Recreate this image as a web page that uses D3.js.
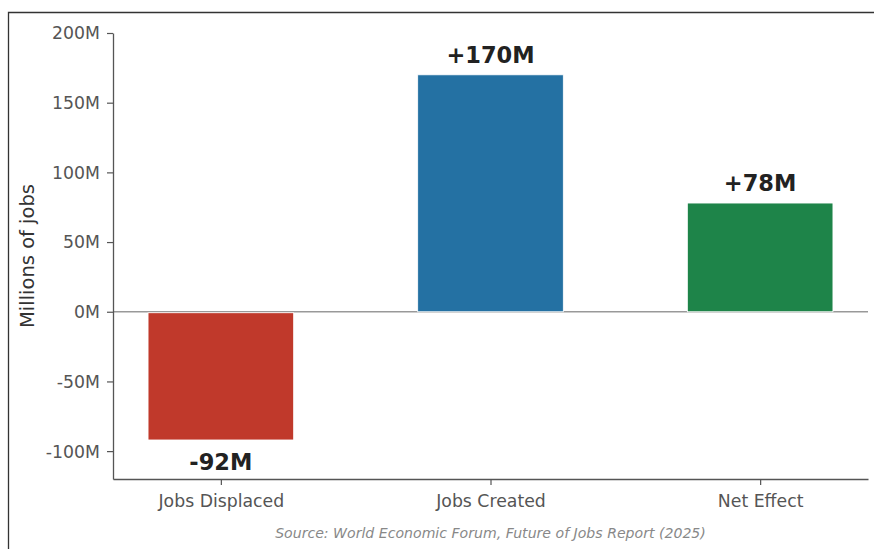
<!DOCTYPE html>
<html>
<head>
<meta charset="utf-8">
<script src="https://cdn.jsdelivr.net/npm/d3@7"></script>
<style>
  html, body { margin: 0; padding: 0; background: #fff; }
  svg { display: block; font-family: "DejaVu Sans", sans-serif; }
</style>
</head>
<body>
<svg id="chart" width="874" height="549"></svg>
<script>
const categories = ["Jobs Displaced", "Jobs Created", "Net Effect"];
const values = [-92, 170, 78];
const labels = ["-92M", "+170M", "+78M"];
const colors = ["#c0392b", "#2471a3", "#1e8449"];
const yTicks = [-100, -50, 0, 50, 100, 150, 200];
const yDomain = [-120, 200];
const source = "Source: World Economic Forum, Future of Jobs Report (2025)";

(function () {
const svg = d3.select("#chart");
const mLeft = 113, mRight = 868, mTop = 33, mBottom = 479;

// figure border (cropped)
svg.append("path")
  .attr("d", "M8.5,560 L8.5,12.5 L880,12.5")
  .attr("fill", "none").attr("stroke", "#333").attr("stroke-width", 1.3);

const x = d3.scaleLinear().domain([-0.4, 2.4]).range([mLeft, mRight]);
const y = d3.scaleLinear().domain(yDomain).range([mBottom, mTop]);
const bw = 0.54;

// zero line
svg.append("line")
  .attr("x1", mLeft).attr("x2", mRight)
  .attr("y1", y(0)).attr("y2", y(0))
  .attr("stroke", "#999").attr("stroke-width", 1.3);

// bars
svg.selectAll("rect.bar").data(values).join("rect")
  .attr("class", "bar")
  .attr("x", (d, i) => x(i - bw / 2))
  .attr("width", (d, i) => x(i + bw / 2) - x(i - bw / 2))
  .attr("y", d => y(Math.max(0, d)) + (d < 0 ? 1 : 0))
  .attr("height", d => Math.abs(y(d) - y(0)) - (d < 0 ? 1 : 0))
  .attr("fill", (d, i) => colors[i])
  .attr("stroke", "#fff").attr("stroke-width", 0.8);

// value labels
svg.selectAll("text.val").data(values).join("text")
  .attr("class", "val")
  .attr("x", (d, i) => x(i))
  .attr("y", d => d >= 0 ? y(d) - 12 : y(d) + 30)
  .attr("text-anchor", "middle")
  .attr("font-size", 22.5).attr("font-weight", "bold")
  .attr("fill", "#222")
  .text((d, i) => labels[i]);

// y axis
const yAxis = d3.axisLeft(y).tickValues(yTicks).tickFormat(d => d + "M").tickSize(6).tickPadding(7).tickSizeOuter(0);
const gy = svg.append("g").attr("transform", `translate(${mLeft},0)`).call(yAxis);
gy.select(".domain").attr("stroke", "#555").attr("stroke-width", 1.3);
gy.selectAll(".tick line").attr("stroke", "#555").attr("stroke-width", 1.2);
gy.selectAll(".tick text").attr("font-size", 17.3).attr("fill", "#555")
  .attr("font-family", "DejaVu Sans, sans-serif").attr("dy", "0.34em");

// x axis
const xAxis = d3.axisBottom(x).tickValues([0, 1, 2]).tickFormat(i => categories[i]).tickSize(6).tickPadding(10).tickSizeOuter(0);
const gx = svg.append("g").attr("transform", `translate(0,${mBottom})`).call(xAxis);
gx.select(".domain").attr("stroke", "#555").attr("stroke-width", 1.3);
gx.selectAll(".tick line").attr("stroke", "#555").attr("stroke-width", 1.2);
gx.selectAll(".tick text").attr("font-size", 17.3).attr("fill", "#555")
  .attr("font-family", "DejaVu Sans, sans-serif");

// y label
svg.append("text")
  .attr("transform", `translate(34,${(mTop + mBottom) / 2}) rotate(-90)`)
  .attr("text-anchor", "middle")
  .attr("font-size", 19.5).attr("fill", "#333")
  .text("Millions of jobs");

// source
svg.append("text")
  .attr("x", (mLeft + mRight) / 2).attr("y", 538)
  .attr("text-anchor", "middle")
  .attr("font-size", 14.1).attr("font-style", "italic").attr("fill", "#888")
  .text(source);
})();
</script>
</body>
</html>
